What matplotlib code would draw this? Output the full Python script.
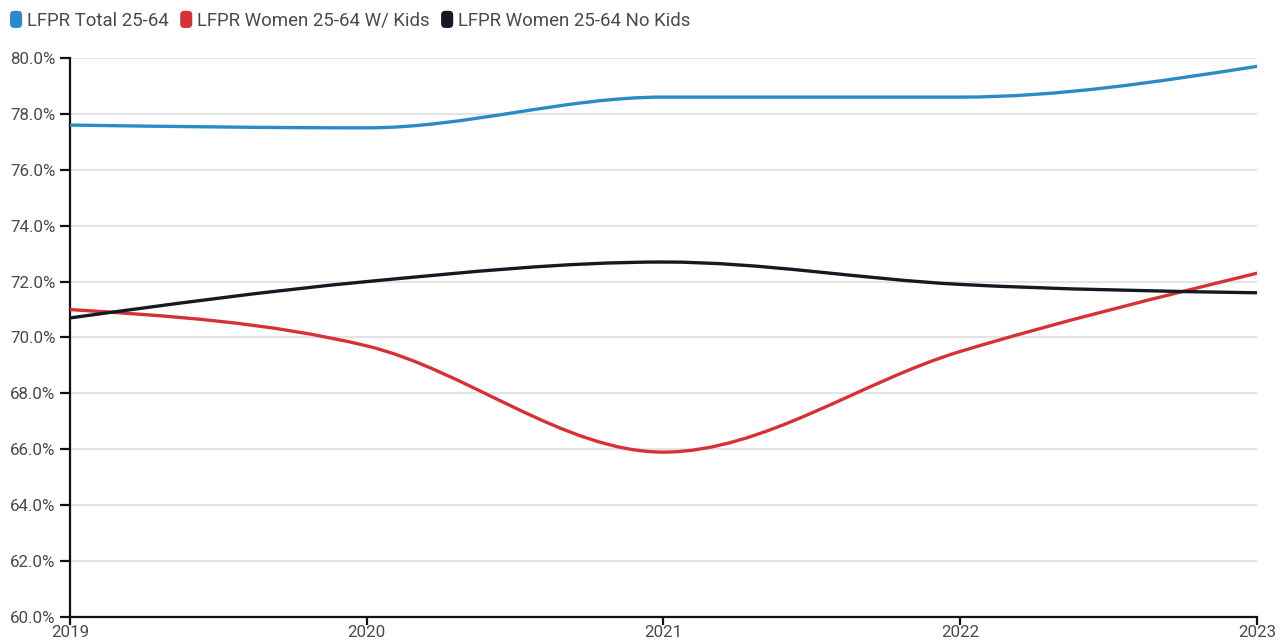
import numpy as np
import matplotlib
matplotlib.use("Agg")
import matplotlib.pyplot as plt
from matplotlib.path import Path
from matplotlib.patches import PathPatch, FancyBboxPatch
from matplotlib.legend_handler import HandlerPatch
from matplotlib.ticker import MultipleLocator, FuncFormatter

years = [2019, 2020, 2021, 2022, 2023]
total = [77.6, 77.5, 78.6, 78.6, 79.7]
women_kids = [71.0, 69.7, 65.9, 69.5, 72.3]
women_no_kids = [70.7, 72.0, 72.7, 71.9, 71.6]

labels = ["LFPR Total 25-64", "LFPR Women 25-64 W/ Kids", "LFPR Women 25-64 No Kids"]
colors = ["#2a8bc6", "#d43236", "#131a24"]

plt.rcParams["font.family"] = ["Roboto", "DejaVu Sans"]
text_col = "#4a4a4a"


def monotone_path(x, y):
    # same shape as d3 curveMonotoneX: cubic bezier pieces with monotone tangents
    x = np.asarray(x, float)
    y = np.asarray(y, float)
    n = len(x)
    h = np.diff(x)
    s = np.diff(y) / h
    t = np.zeros(n)
    for i in range(1, n - 1):
        p = (s[i - 1] * h[i] + s[i] * h[i - 1]) / (h[i - 1] + h[i])
        t[i] = (np.sign(s[i - 1]) + np.sign(s[i])) * min(abs(s[i - 1]), abs(s[i]), 0.5 * abs(p))
    t[0] = (3 * s[0] - t[1]) / 2
    t[-1] = (3 * s[-1] - t[-2]) / 2
    verts = [(x[0], y[0])]
    codes = [Path.MOVETO]
    for i in range(n - 1):
        dx = h[i] / 3
        verts += [(x[i] + dx, y[i] + dx * t[i]),
                  (x[i + 1] - dx, y[i + 1] - dx * t[i + 1]),
                  (x[i + 1], y[i + 1])]
        codes += [Path.CURVE4] * 3
    return Path(verts, codes)


class RoundBoxHandler(HandlerPatch):
    def create_artists(self, legend, orig_handle, xdescent, ydescent,
                       width, height, fontsize, trans):
        w = width
        hgt = height * 1.45
        box = FancyBboxPatch((-xdescent, -ydescent - (hgt - height) / 2), w, hgt,
                             boxstyle="round,pad=0,rounding_size=3",
                             facecolor=orig_handle.get_facecolor(),
                             edgecolor="none", transform=trans)
        return [box]


fig = plt.figure(figsize=(12.86, 6.42), dpi=100)
ax = fig.add_axes([0.0544, 0.0389, 0.9230, 0.8708])

handles = []
for vals, col, lab in zip([total, women_kids, women_no_kids], colors, labels):
    ax.add_patch(PathPatch(monotone_path(years, vals), facecolor="none",
                           edgecolor=col, lw=2.4, capstyle="round", zorder=3))
    handles.append(FancyBboxPatch((0, 0), 1, 1, facecolor=col, label=lab))

ax.set_xlim(2019, 2023)
ax.set_ylim(60, 80)
ax.yaxis.set_major_locator(MultipleLocator(2))
ax.yaxis.set_major_formatter(FuncFormatter(lambda v, p: f"{v:.1f}%"))
ax.set_xticks(years)
ax.set_xticklabels([str(y) for y in years])
ax.grid(axis="y", color="#e4e4e4", lw=1.5)
ax.set_axisbelow(True)
for side in ["top", "right"]:
    ax.spines[side].set_visible(False)
for side in ["left", "bottom"]:
    ax.spines[side].set_color("#111111")
    ax.spines[side].set_linewidth(1.6)
ax.tick_params(axis="y", colors="#111111", width=1.6, length=7,
               labelsize=12.2, labelcolor=text_col, pad=3.5)
ax.tick_params(axis="x", colors="#111111", width=1.6, length=6,
               labelsize=12.2, labelcolor=text_col, pad=0)

leg = fig.legend(handles=handles, loc="upper left", bbox_to_anchor=(0.002, 0.993),
                 ncol=3, frameon=False, fontsize=13.4, handlelength=0.65,
                 handleheight=0.6, handletextpad=0.27, columnspacing=0.6,
                 borderaxespad=0, handler_map={FancyBboxPatch: RoundBoxHandler()})
for txt in leg.get_texts():
    txt.set_color(text_col)

fig.savefig("out.png", dpi=100)
